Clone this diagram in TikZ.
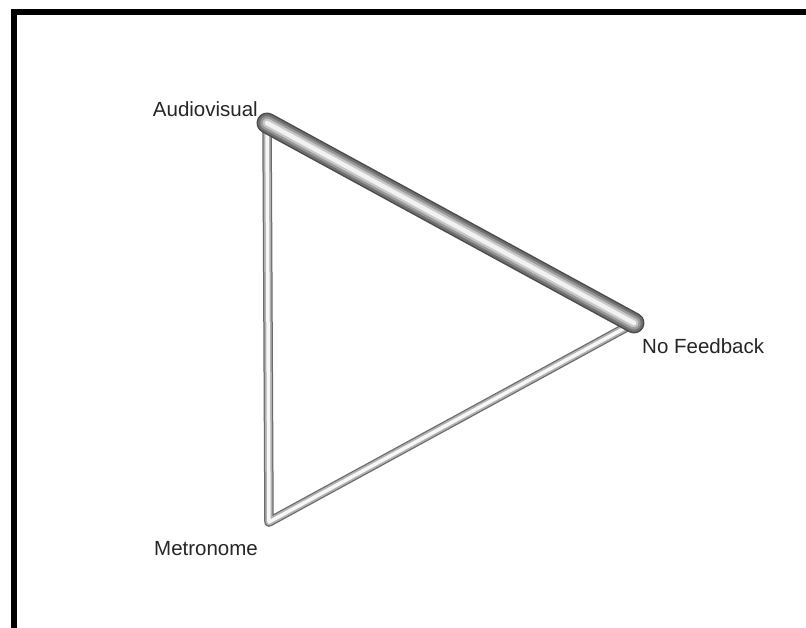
\documentclass[tikz,border=0pt]{standalone}
\usepackage{fontspec}
\setmainfont{Liberation Sans}
\begin{document}
\begin{tikzpicture}[x=1pt,y=-1pt,
  lbl/.style={inner sep=0pt,font=\fontsize{20.5}{24}\selectfont,text=black!85},
  thinA/.style={line width=9.5pt,color=black!58,line cap=round,line join=round},
  thinB/.style={line width=7pt,color=black!30,line cap=round,line join=round},
  thinC/.style={line width=3.5pt,color=black!3,line cap=round,line join=round},
  tubeA/.style={line width=21pt,color=black!70,line cap=round},
  tubeB/.style={line width=18pt,color=black!56,line cap=round},
  tubeC/.style={line width=13.5pt,color=black!40,line cap=round},
  tubeD/.style={line width=9pt,color=black!22,line cap=round},
  tubeE/.style={line width=4.5pt,color=black!5,line cap=round},
  frame/.style={line width=6.5pt,color=black,line join=miter}]
\useasboundingbox (0,0) rectangle (806,628);
\fill[white] (0,0) rectangle (806,628);
\draw[frame] (14,640) -- (14,12) -- (820,12);
\coordinate (av) at (267,123);
\coordinate (nf) at (634,323);
\coordinate (me) at (269,522);
% thin edges
\foreach \s in {thinA,thinB,thinC}{
  \draw[\s] (av) -- (me) -- (nf);
}
% thick edge
\draw[tubeA] (av) -- (nf);
\draw[tubeB] (av) -- (nf);
\draw[tubeC,shift={(0.7,-1.3)}] (av) -- (nf);
\draw[tubeD,shift={(1.2,-2.2)}] (av) -- (nf);
\draw[tubeE,shift={(1.6,-3.0)}] (av) -- (nf);
\node[lbl,anchor=base east] (lav) at (258,117) {Audiovisual};
\node[lbl,anchor=base west] (lnf) at (642,353) {No Feedback};
\node[lbl,anchor=base west] (lme) at (154,555) {Metronome};
\end{tikzpicture}
\end{document}
